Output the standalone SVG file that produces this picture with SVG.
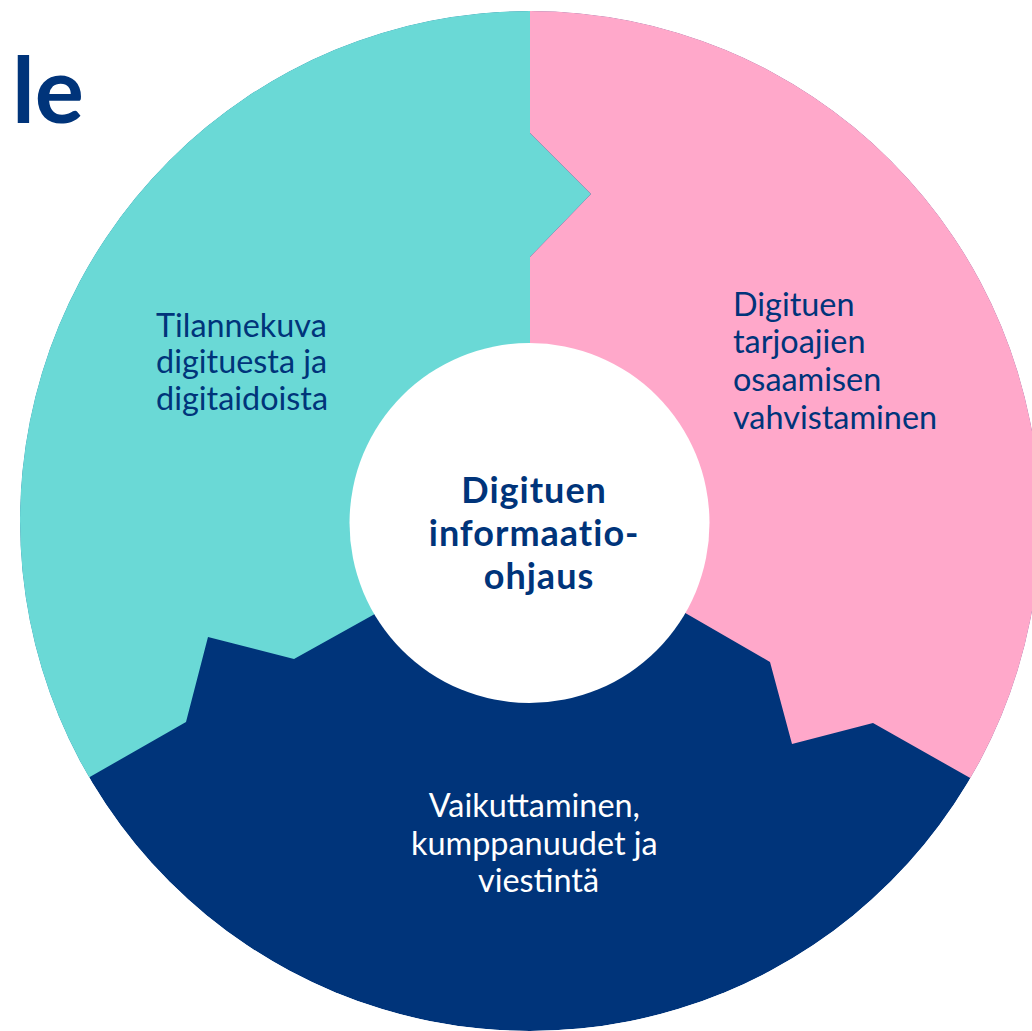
<svg xmlns="http://www.w3.org/2000/svg" width="1032" height="1031" viewBox="0 0 1032 1031">
  <defs>
    <clipPath id="outer">
      <circle cx="530" cy="521" r="510"/>
    </clipPath>
    <style>
      .lbl { font-family: Lato, "Liberation Sans", sans-serif; font-size: 32.4px; fill: #00347A; }
      .lbl-w { font-family: Lato, "Liberation Sans", sans-serif; font-size: 32.4px; fill: #FFFFFF; }
      .center { font-family: Lato, "Liberation Sans", sans-serif; font-size: 36px; font-weight: bold; letter-spacing: 1px; fill: #00347A; }
    </style>
  </defs>
  <rect width="1032" height="1031" fill="#FFFFFF"/>
  <text x="84" y="123" text-anchor="end" font-family="Lato, 'Liberation Sans', sans-serif" font-size="92" font-weight="bold" fill="#00347A">le</text>
  <g clip-path="url(#outer)">
    <g id="seg-vaikuttaminen">
      <circle cx="530" cy="521" r="510" fill="#00347A"/>
    </g>
    <g id="seg-tilannekuva">
      <polygon points="530,0 530,133 591,194 530,257 530,523 373,615 294,659 208,637 186,722 88,778 -10,834 -10,0" fill="#6AD9D6"/>
    </g>
    <g id="seg-digituen-tarjoajien">
      <polygon points="530,0 530,133 591,194 530,257 530,523 687,614 770,662 792,744 873,723 972,779 1070,835 1070,0" fill="#FFA8CA"/>
    </g>
  </g>
  <g id="center">
    <circle cx="529.5" cy="523" r="180" fill="#FFFFFF"/>
    <text class="center" text-anchor="middle">
      <tspan x="539" y="503">Digituen</tspan>
      <tspan x="539" y="546">informaatio-</tspan>
      <tspan x="539" y="589">ohjaus</tspan>
    </text>
  </g>
  <g id="label-tilannekuva">
    <text class="lbl">
      <tspan x="156" y="337">Tilannekuva</tspan>
      <tspan x="156" y="373">digituesta ja</tspan>
      <tspan x="156" y="410">digitaidoista</tspan>
    </text>
  </g>
  <g id="label-digituen-tarjoajien">
    <text class="lbl">
      <tspan x="733" y="316">Digituen</tspan>
      <tspan x="733" y="353">tarjoajien</tspan>
      <tspan x="733" y="391">osaamisen</tspan>
      <tspan x="733" y="429">vahvistaminen</tspan>
    </text>
  </g>
  <g id="label-vaikuttaminen">
    <text class="lbl-w" text-anchor="middle">
      <tspan x="538.5" y="817">Vaikuttaminen,</tspan>
      <tspan x="538.5" y="855">kumppanuudet ja</tspan>
      <tspan x="538.5" y="892">viestintä</tspan>
    </text>
  </g>
</svg>
